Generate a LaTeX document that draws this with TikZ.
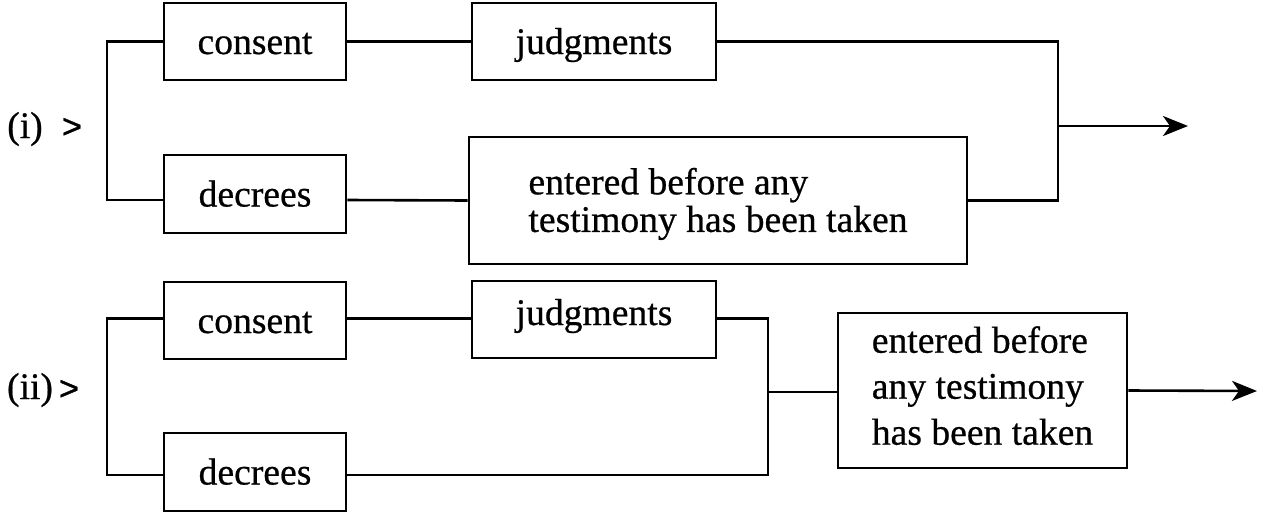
\documentclass[tikz,border=0pt]{standalone}
\usepackage{fontspec}
\setmainfont{Liberation Serif}[FakeBold=0.6]
\newfontfamily\gtfont{Liberation Sans}[FakeBold=1.2]
\usetikzlibrary{arrows.meta}
\begin{document}
\begin{tikzpicture}[x=1pt,y=-1pt,
  box/.style={draw,line width=2.6pt,inner sep=0pt,font=\fontsize{37.6}{37.6}\selectfont},
  onebox/.style={box,text height=25pt,text depth=0pt},
  wire/.style={line width=2.6pt},
  arr/.style={line width=2.6pt,-{Stealth[length=25pt,width=20pt,inset=7pt]}},
  lbl/.style={inner sep=0pt,font=\fontsize{37.6}{37.6}\selectfont},
  gt/.style={inner sep=0pt,font=\gtfont\fontsize{34}{34}\selectfont}]
\useasboundingbox (0,0) rectangle (1261,517);
% ---- part (i)
\node[lbl] (lab1) at (25,129) {(i)};
\node[gt] (gt1) at (72,128) {>};
\node[onebox,minimum width=182pt,minimum height=77pt] (consent1) at (255,41.5) {consent};
\node[onebox,minimum width=182pt,minimum height=78pt] (decrees1) at (255,194) {decrees};
\node[onebox,minimum width=244pt,minimum height=77pt] (judg1) at (594,41.5) {judgments};
\node[box,minimum width=498pt,minimum height=127pt] (ent1) at (718,200.5)
  {\raisebox{-5pt}[\height][\depth]{\begin{tabular}{@{}l@{}}entered before any\\testimony has been taken\end{tabular}}};
\coordinate (L1) at (107,120);
\coordinate (R1) at (1058,126);
\coordinate (A1) at (1188,126);
\draw[wire] (consent1.west) -| (L1) |- ([yshift=-6pt]decrees1.west);
\draw[wire] (consent1.east) -- (judg1.west);
\draw[wire] ([yshift=-6pt]decrees1.east) -- (ent1.west);
\draw[wire] (judg1.east) -| (R1) |- (ent1.east);
\draw[arr] (R1) -- (A1);
% ---- part (ii)
\node[lbl] (lab2) at (30,390) {(ii)};
\node[gt] (gt2) at (69,390) {>};
\node[onebox,minimum width=182pt,minimum height=77pt] (consent2) at (255,320.5) {consent};
\node[onebox,minimum width=182pt,minimum height=78pt] (decrees2) at (255,472) {decrees};
\node[onebox,minimum width=244pt,minimum height=77pt] (judg2) at (594,319.5)
  {\raisebox{7pt}[\height][\depth]{judgments}};
\node[box,minimum width=289pt,minimum height=155pt,
  font=\fontsize{37.6}{46}\selectfont] (ent2) at (982.5,390.5)
  {\raisebox{1pt}[\height][\depth]{\begin{tabular}{@{}l@{}}entered before\\any testimony\\has been taken\end{tabular}}};
\coordinate (L2) at (107,396);
\coordinate (R2) at (768,392);
\coordinate (A2) at (1257,391);
\draw[wire] ([yshift=2pt]consent2.west) -| (L2) |- ([yshift=-3pt]decrees2.west);
\draw[wire] ([yshift=2pt]consent2.east) -- ([yshift=1pt]judg2.west);
\draw[wire] ([yshift=1pt]judg2.east) -| (R2) |- ([yshift=-3pt]decrees2.east);
\draw[wire] (R2) -- (R2 -| ent2.west);
\draw[arr] (ent2.east) -- (A2);
\end{tikzpicture}
\end{document}
